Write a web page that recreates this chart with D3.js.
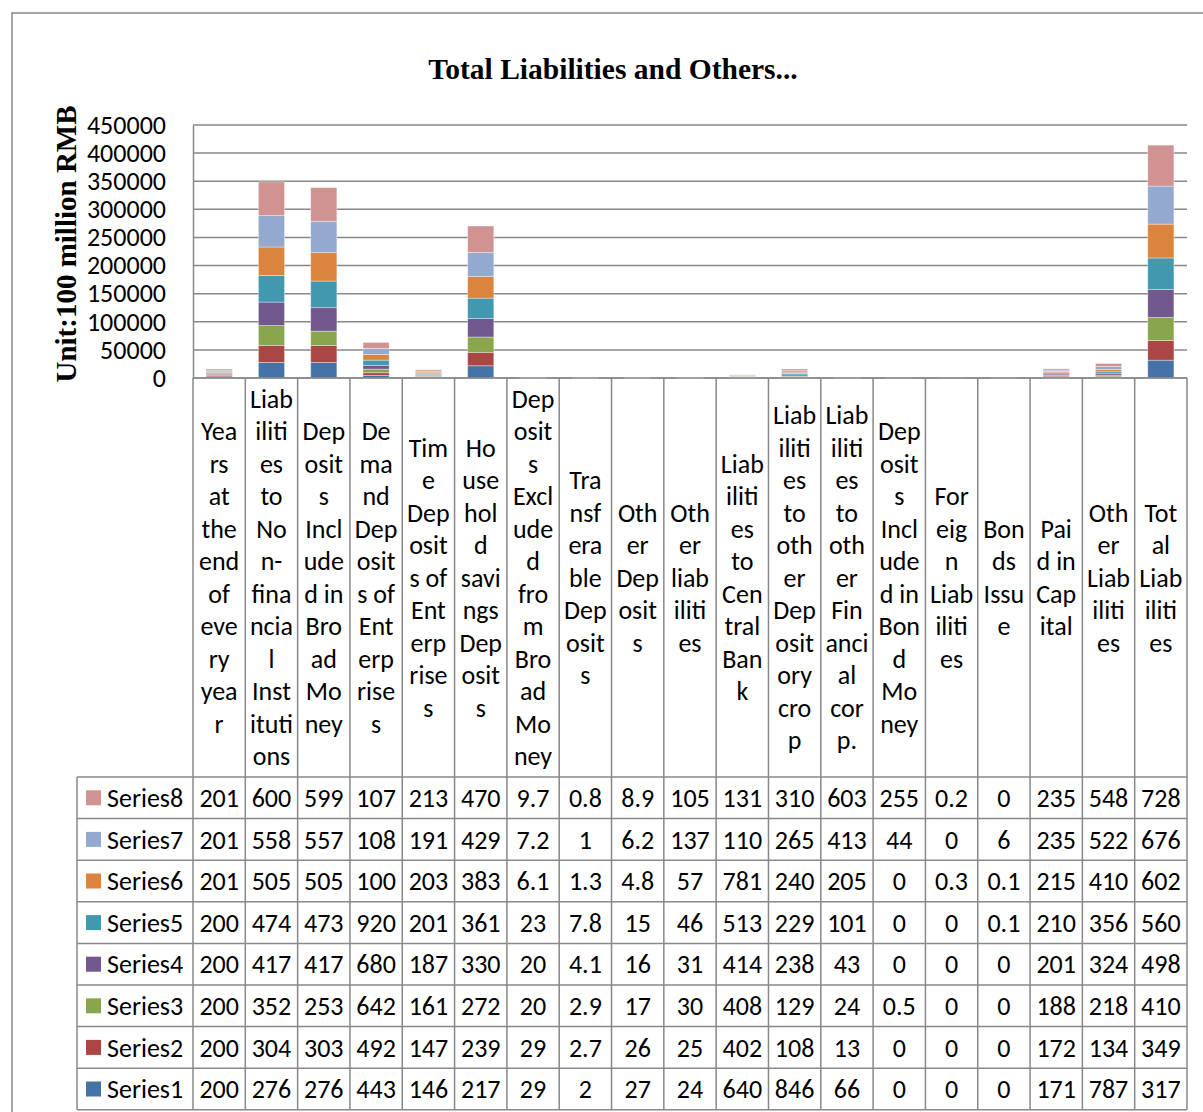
<!DOCTYPE html>
<html>
<head>
<meta charset="utf-8">
<script src="https://cdn.jsdelivr.net/npm/d3@7"></script>
<style>
  body { margin: 0; background: #fff; }
  svg { display: block; }
  .lbl { font-family: Calibri, Carlito, 'Open Sans', sans-serif; font-size: 26px; fill: #000; }
  .ttl { font-family: 'Times New Roman', 'Liberation Serif', serif; font-weight: bold; fill: #000; }
</style>
</head>
<body>
<script>
// category labels, already wrapped the way the data table shows them
var categories = [
  'Yea|rs|at|the|end|of|eve|ry|yea|r',
  'Liab|iliti|es|to|No|n-|fina|ncia|l|Inst|ituti|ons',
  'Dep|osit|s|Incl|ude|d in|Bro|ad|Mo|ney',
  'De|ma|nd|Dep|osit|s of|Ent|erp|rise|s',
  'Tim|e|Dep|osit|s of|Ent|erp|rise|s',
  'Ho|use|hol|d|savi|ngs|Dep|osit|s',
  'Dep|osit|s|Excl|ude|d|fro|m|Bro|ad|Mo|ney',
  'Tra|nsf|era|ble|Dep|osit|s',
  'Oth|er|Dep|osit|s',
  'Oth|er|liab|iliti|es',
  'Liab|iliti|es|to|Cen|tral|Ban|k',
  'Liab|iliti|es|to|oth|er|Dep|osit|ory|cro|p',
  'Liab|iliti|es|to|oth|er|Fin|anci|al|cor|p.',
  'Dep|osit|s|Incl|ude|d in|Bon|d|Mo|ney',
  'For|eig|n|Liab|iliti|es',
  'Bon|ds|Issu|e',
  'Pai|d in|Cap|ital',
  'Oth|er|Liab|iliti|es',
  'Tot|al|Liab|iliti|es'
]

var seriesNames = ['Series1', 'Series2', 'Series3', 'Series4', 'Series5', 'Series6', 'Series7', 'Series8']
var colors = ['#4572A7', '#AA4643', '#89A54E', '#71588F', '#4198AF', '#DB843D', '#93A9CF', '#D19392']

var series1 = [2005, 27645, 27630, 4431, 1462, 21737, 29, 2, 27, 24, 640, 846, 66, 0, 0, 0, 1712, 787, 31716]
var series2 = [2006, 30412, 30361, 4925, 1473, 23943, 29, 2.7, 26, 25, 402, 1083, 13, 0, 0, 0, 1724, 1342, 34912]
var series3 = [2007, 35237, 25340, 6421, 1614, 27215, 20, 2.9, 17, 30, 408, 1292, 24, 0.5, 0, 0, 1881, 2183, 41035]
var series4 = [2008, 41712, 41735, 6802, 1873, 33012, 20, 4.1, 16, 31, 414, 2381, 43, 0, 0, 0, 2013, 3241, 49814]
var series5 = [2009, 47465, 47351, 9205, 2012, 36114, 23, 7.8, 15, 46, 513, 2294, 101, 0, 0, 0.1, 2103, 3562, 56013]
var series6 = [2010, 50553, 50563, 10042, 2034, 38345, 6.1, 1.3, 4.8, 57, 781, 2405, 205, 0, 0.3, 0.1, 2152, 4105, 60231]
var series7 = [2011, 55813, 55712, 10815, 1912, 42921, 7.2, 1, 6.2, 137, 1104, 2651, 413, 44, 0, 6, 2351, 5221, 67612]
var series8 = [2012, 60024, 59976, 10731, 2131, 47032, 9.7, 0.8, 8.9, 105, 1312, 3102, 603, 255, 0.2, 0, 2354, 5483, 72845]

var yTicks = [0, 50000, 100000, 150000, 200000, 250000, 300000, 350000, 400000, 450000]

var allSeries = [series1, series2, series3, series4, series5, series6, series7, series8]

var W = 1203, H = 1112
var plotLeft = 193, plotRight = 1187, plotTop = 125, plotBottom = 378
var headBottom = 777, rowH = 41.6, legendLeft = 77
var gridColor = '#888'

var svg = d3.select('body').append('svg').attr('width', W).attr('height', H)

// outer chart border (runs off the right and bottom of the picture)
svg.append('rect')
  .attr('x', 12).attr('y', 13).attr('width', 1220).attr('height', 1200)
  .attr('fill', 'none').attr('stroke', gridColor).attr('stroke-width', 1.5)

var x = d3.scaleBand()
  .domain(d3.range(categories.length))
  .range([plotLeft, plotRight])
  .paddingInner(0.5)
  .paddingOuter(0.25)
var step = x.step()

var y = d3.scaleLinear().domain([0, 450000]).range([plotBottom, plotTop])

// gridlines
svg.append('g').selectAll('line')
  .data(yTicks)
  .enter().append('line')
  .attr('x1', plotLeft).attr('x2', plotRight)
  .attr('y1', function (d) { return y(d) }).attr('y2', function (d) { return y(d) })
  .attr('stroke', gridColor).attr('stroke-width', 1.5)

// y axis labels
var yAxis = svg.append('g')
  .attr('transform', 'translate(' + plotLeft + ',0)')
  .call(d3.axisLeft(y).tickValues(yTicks).tickSize(0).tickPadding(27).tickFormat(d3.format('d')))
yAxis.select('.domain').attr('stroke', gridColor).attr('stroke-width', 1.5)
yAxis.selectAll('text').attr('class', 'lbl').attr('font-size', null).attr('font-family', null)

// stacked bars
var rows = categories.map(function (c, i) {
  var r = {i: i}
  seriesNames.forEach(function (s, k) { r[s] = allSeries[k][i] })
  return r
})
var stacked = d3.stack().keys(seriesNames)(rows)

svg.append('g').selectAll('g')
  .data(stacked)
  .enter().append('g')
  .attr('fill', function (d, k) { return colors[k] })
  .selectAll('rect')
  .data(function (d) { return d })
  .enter().append('rect')
  .attr('x', function (d) { return x(d.data.i) })
  .attr('width', x.bandwidth())
  .attr('y', function (d) { return y(d[1]) })
  .attr('height', function (d) { return y(d[0]) - y(d[1]) })
  .attr('stroke', '#fff').attr('stroke-opacity', 0.45).attr('stroke-width', 0.8)

// data table
var tableBottom = headBottom + rowH * seriesNames.length
var tbl = svg.append('g').attr('stroke', gridColor).attr('stroke-width', 1.5)

tbl.selectAll('.vcol')
  .data(d3.range(categories.length + 1))
  .enter().append('line')
  .attr('x1', function (d) { return plotLeft + d * step }).attr('x2', function (d) { return plotLeft + d * step })
  .attr('y1', plotBottom).attr('y2', tableBottom)

tbl.append('line').attr('x1', plotLeft).attr('x2', plotRight).attr('y1', plotBottom).attr('y2', plotBottom)
tbl.append('line').attr('x1', legendLeft).attr('x2', legendLeft).attr('y1', headBottom).attr('y2', tableBottom)

tbl.selectAll('.hrow')
  .data(d3.range(seriesNames.length + 1))
  .enter().append('line')
  .attr('x1', legendLeft).attr('x2', plotRight)
  .attr('y1', function (d) { return headBottom + d * rowH }).attr('y2', function (d) { return headBottom + d * rowH })

// category headers
var headMid = (plotBottom + headBottom) / 2
var lineH = 32.5
categories.forEach(function (c, i) {
  var lines = c.split('|')
  var cx = plotLeft + (i + 0.5) * step
  svg.append('text')
    .attr('class', 'lbl')
    .attr('text-anchor', 'middle')
    .selectAll('tspan')
    .data(lines)
    .enter().append('tspan')
    .attr('x', cx)
    .attr('y', function (d, j) { return headMid + (j - (lines.length - 1) / 2) * lineH })
    .attr('dy', '0.35em')
    .text(function (d) { return d })
})

// rows: Series8 on top down to Series1
var shortText = function (v) { return String(v).slice(0, 3) }
var order = d3.range(seriesNames.length).reverse()
order.forEach(function (k, r) {
  var cy = headBottom + (r + 0.5) * rowH
  svg.append('rect')
    .attr('x', 86).attr('y', cy - 7.5).attr('width', 15).attr('height', 15)
    .attr('fill', colors[k])
  svg.append('text')
    .attr('class', 'lbl')
    .attr('x', 107).attr('y', cy).attr('dy', '0.35em')
    .text(seriesNames[k])
  svg.append('g').selectAll('text')
    .data(allSeries[k])
    .enter().append('text')
    .attr('class', 'lbl')
    .attr('text-anchor', 'middle')
    .attr('x', function (d, i) { return plotLeft + (i + 0.5) * step })
    .attr('y', cy).attr('dy', '0.35em')
    .text(shortText)
})

// titles
svg.append('text')
  .attr('class', 'ttl')
  .attr('x', 613).attr('y', 79)
  .attr('text-anchor', 'middle')
  .attr('font-size', 29.5)
  .text('Total Liabilities and Others...')

svg.append('text')
  .attr('class', 'ttl')
  .attr('transform', 'translate(76,244) rotate(-90)')
  .attr('text-anchor', 'middle')
  .attr('font-size', 29)
  .text('Unit:100 million RMB')
</script>
</body>
</html>
